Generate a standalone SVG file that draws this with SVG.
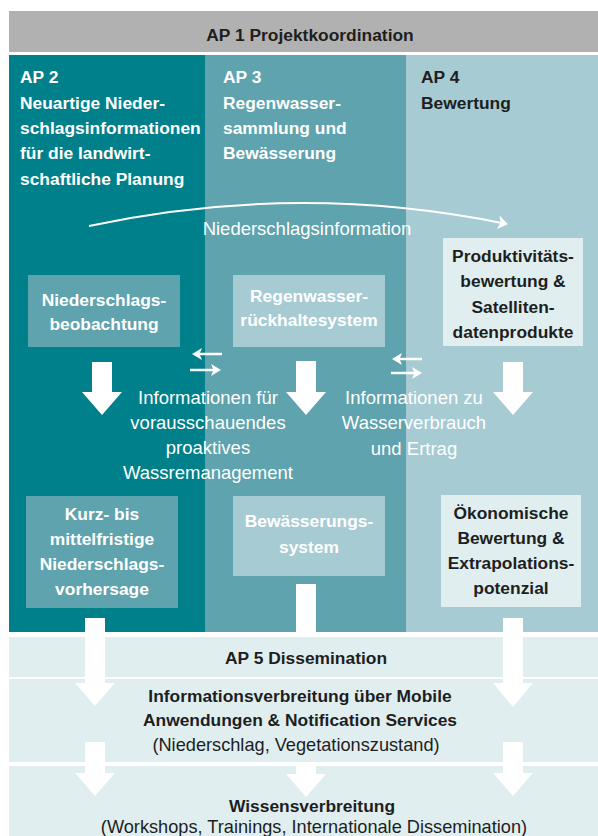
<svg xmlns="http://www.w3.org/2000/svg" width="598" height="836" viewBox="0 0 598 836">
<defs>
<style>
text{font-family:"Liberation Sans",Arial,sans-serif}
.b{font-weight:bold;font-size:17.4px}
.r{font-size:18.2px}
.l{font-size:18.5px}
.w{fill:#ffffff}
.d{fill:#1e1e1e}
.c{text-anchor:middle}
.arr{fill:#ffffff}
.ln{stroke:#ffffff;stroke-width:2.5;fill:none}
.c1{fill:#00808a}
.c2{fill:#5ea3ad}
.c3{fill:#a7cbd3}
.c4{fill:#e0eef0}
</style>
<marker id="ah" viewBox="0 0 10 12" refX="6" refY="6" markerWidth="10" markerHeight="12" markerUnits="userSpaceOnUse" orient="auto"><path d="M0,0 L10,6 L0,12 L2.5,6 z" fill="#ffffff"/></marker>
<marker id="ah2" viewBox="0 0 10 14" refX="6" refY="7" markerWidth="10" markerHeight="14" markerUnits="userSpaceOnUse" orient="auto"><path d="M0,0 L10,7 L0,14 L2.5,7 z" fill="#ffffff"/></marker>
</defs>
<rect x="0" y="0" width="598" height="836" fill="#ffffff"/>

<g id="ap1">
<rect x="9" y="11" width="589" height="41" fill="#b1b1b1"/>
<text class="b d c" x="310" y="41">AP 1 Projektkoordination</text>
</g>

<g id="ap2">
<rect class="c1" x="9" y="55" width="196" height="577"/>
<text class="b w" x="20" y="83">AP 2</text>
<text class="b w" x="20" y="109">Neuartige Nieder-</text>
<text class="b w" x="20" y="134">schlagsinformationen</text>
<text class="b w" x="20" y="159">für die landwirt-</text>
<text class="b w" x="20" y="185">schaftliche Planung</text>
</g>

<g id="ap3">
<rect class="c2" x="205" y="55" width="201" height="577"/>
<text class="b w" x="223" y="83">AP 3</text>
<text class="b w" x="223" y="109">Regenwasser-</text>
<text class="b w" x="223" y="134">sammlung und</text>
<text class="b w" x="223" y="159">Bewässerung</text>
</g>

<g id="ap4">
<rect class="c3" x="406" y="55" width="192" height="577"/>
<text class="b d" x="421" y="83">AP 4</text>
<text class="b d" x="421" y="109">Bewertung</text>
</g>

<g id="ap5">
<rect class="c4" x="9" y="637" width="589" height="40"/>
<text class="b d c" x="306" y="664">AP 5 Dissemination</text>
</g>

<g id="informationsverbreitung">
<rect class="c4" x="9" y="679" width="589" height="83"/>
<text class="b d c" x="300" y="702">Informationsverbreitung über Mobile</text>
<text class="b d c" x="300" y="726">Anwendungen &amp; Notification Services</text>
<text class="r d c" x="296" y="751">(Niederschlag, Vegetationszustand)</text>
</g>

<g id="wissensverbreitung">
<rect class="c4" x="9" y="766" width="589" height="70"/>
<text class="b d c" x="312" y="812">Wissensverbreitung</text>
<text class="r d c" x="314" y="833">(Workshops, Trainings, Internationale Dissemination)</text>
</g>

<g id="niederschlagsbeobachtung">
<rect class="c2" x="28" y="275" width="152" height="72"/>
<text class="b w c" x="104" y="306">Niederschlags-</text>
<text class="b w c" x="104" y="330">beobachtung</text>
</g>

<g id="regenwasserrueckhaltesystem">
<rect class="c3" x="233" y="275" width="152" height="72"/>
<text class="b w c" x="309" y="302">Regenwasser-</text>
<text class="b w c" x="309" y="326">rückhaltesystem</text>
</g>

<g id="produktivitaetsbewertung">
<rect class="c4" x="443" y="238" width="140" height="108"/>
<text class="b d c" x="513" y="262">Produktivitäts-</text>
<text class="b d c" x="513" y="287">bewertung &amp;</text>
<text class="b d c" x="513" y="313">Satelliten-</text>
<text class="b d c" x="513" y="338">datenprodukte</text>
</g>

<g id="vorhersage">
<rect class="c2" x="26" y="496" width="152" height="112"/>
<text class="b w c" x="102" y="520">Kurz- bis</text>
<text class="b w c" x="102" y="545">mittelfristige</text>
<text class="b w c" x="102" y="570">Niederschlags-</text>
<text class="b w c" x="102" y="595">vorhersage</text>
</g>

<g id="bewaesserungssystem">
<rect class="c3" x="233" y="496" width="152" height="80"/>
<text class="b w c" x="309" y="527">Bewässerungs-</text>
<text class="b w c" x="309" y="553">system</text>
</g>

<g id="oekonomische-bewertung">
<rect class="c4" x="441" y="495" width="140" height="112"/>
<text class="b d c" x="511" y="519">Ökonomische</text>
<text class="b d c" x="511" y="544">Bewertung &amp;</text>
<text class="b d c" x="511" y="569">Extrapolations-</text>
<text class="b d c" x="511" y="594">potenzial</text>
</g>

<g id="connectors">
<path class="ln" style="stroke-width:2" d="M89,226 Q298,181.5 504,223.5" marker-end="url(#ah2)"/>
<text class="l w c" x="307" y="235">Niederschlagsinformation</text>

<line class="ln" x1="222" y1="354" x2="196" y2="354" marker-end="url(#ah)"/>
<line class="ln" x1="190" y1="370" x2="217" y2="370" marker-end="url(#ah)"/>
<line class="ln" x1="422" y1="359" x2="396" y2="359" marker-end="url(#ah)"/>
<line class="ln" x1="391" y1="373" x2="418" y2="373" marker-end="url(#ah)"/>

<polygon class="arr" points="92,362 112,362 112,392 122,392 102,415 82,392 92,392"/>
<polygon class="arr" points="296,361 316,361 316,392 326,392 306,415 286,392 296,392"/>
<polygon class="arr" points="503,362 523,362 523,392 533,392 513,415 493,392 503,392"/>

<text class="l w c" x="208" y="404">Informationen für</text>
<text class="l w c" x="208" y="429">vorausschauendes</text>
<text class="l w c" x="208" y="454">proaktives</text>
<text class="l w c" x="208" y="479">Wassremanagement</text>

<text class="l w c" x="414" y="404">Informationen zu</text>
<text class="l w c" x="414" y="429">Wasserverbrauch</text>
<text class="l w c" x="414" y="455">und Ertrag</text>

<polygon class="arr" points="85,618 105,618 105,683 115,683 95,706 75,683 85,683"/>
<polygon class="arr" points="85,742 105,742 105,773 115,773 95,796 75,773 85,773"/>
<polygon class="arr" points="503,618 523,618 523,683 533,683 513,707 493,683 503,683"/>
<polygon class="arr" points="503,742 523,742 523,773 533,773 513,796 493,773 503,773"/>
<rect class="arr" x="296" y="584" width="20" height="53"/>
<polygon class="arr" points="296,762 316,762 316,774 326,774 306,797 286,774 296,774"/>
</g>
</svg>
